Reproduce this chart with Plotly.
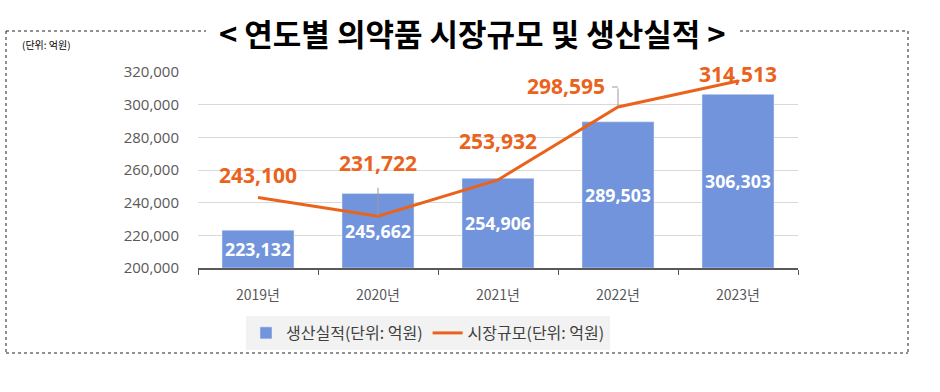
import plotly.graph_objects as go

years = ["2019년", "2020년", "2021년", "2022년", "2023년"]
production = [223132, 245662, 254906, 289503, 306303]
market = [243100, 231722, 253932, 298595, 314513]
y_ticks = [200000, 220000, 240000, 260000, 280000, 300000, 320000]
y_min, y_max = 200000, 320000
title_text = "< 연도별 의약품 시장규모 및 생산실적 >"
unit_text = "(단위: 억원)"
bar_name = "생산실적(단위: 억원)"
line_name = "시장규모(단위: 억원)"

BLUE = "#7194DC"
ORANGE = "#EA631C"
FONT = "Noto Sans CJK KR"

fig = go.Figure()
fig.add_trace(go.Bar(
    x=years, y=[v - y_min for v in production], base=y_min,
    name=bar_name, marker_color=BLUE, width=0.6,
    text=[f"<b>{v:,}</b>" for v in production], textposition="inside",
    insidetextanchor="middle", textangle=0,
    textfont=dict(color="white", size=18, family="Open Sans"),
))
fig.add_trace(go.Scatter(
    x=years, y=market, name=line_name, mode="lines",
    line=dict(color=ORANGE, width=3),
))

# line labels (pixel offsets)
offsets = [(0, -23, 0), (0, -53, 9), (0, -39, 0), (-52, -21, 0), (0, -7, 0)]
for xv, yv, (ax, ay, sso) in zip(years, market, offsets):
    fig.add_annotation(
        x=xv, y=yv, xref="x", yref="y", text=f"<b>{yv:,}</b>",
        showarrow=True, ax=ax, ay=ay, arrowhead=0, arrowwidth=1,
        arrowcolor="#9a9a9a" if sso else "rgba(0,0,0,0)",
        standoff=0, startstandoff=sso,
        font=dict(color=ORANGE, size=21, family="Open Sans"),
    )

# bracket-style leader for the 2022 label
fig.add_annotation(x=years[3], y=market[3], xref="x", yref="y", text="",
                   showarrow=True, ax=0, ay=-20, arrowhead=0, arrowwidth=1,
                   arrowcolor="#9a9a9a", standoff=1)

# dotted frame with gap for title
dash = dict(color="#222222", width=1, dash="dot")
def px_line(x0, y0, x1, y1):
    fig.add_shape(type="line", xref="paper", yref="paper",
                  x0=(x0 - 198) / 600, x1=(x1 - 198) / 600,
                  y0=(268 - y0) / 196, y1=(268 - y1) / 196, line=dash)
px_line(6, 31, 206, 31)
px_line(740, 31, 908, 31)
px_line(6, 31, 6, 353)
px_line(908, 31, 908, 353)
px_line(6, 353, 908, 353)
# small horizontal hook of the 2022 leader
fig.add_shape(type="line", xref="x", yref="paper",
              x0=3 - 0.05, x1=3, y0=(268 - 87) / 196, y1=(268 - 87) / 196,
              line=dict(color="#9a9a9a", width=1))

fig.add_annotation(text=f"<b>{title_text}</b>", xref="paper", yref="paper",
                   x=(472 - 198) / 600, y=(268 - 32) / 196, showarrow=False,
                   xanchor="center", yanchor="middle",
                   font=dict(size=31, color="black", family=FONT, weight=900))
fig.add_annotation(text=unit_text, xref="paper", yref="paper",
                   x=(20 - 198) / 600, y=(268 - 44) / 196, showarrow=False,
                   xanchor="left", yanchor="middle",
                   font=dict(size=10, color="black", family=FONT))

fig.update_layout(
    width=940, height=392,
    margin=dict(l=198, r=142, t=72, b=124),
    paper_bgcolor="white", plot_bgcolor="white",
    font=dict(family=FONT, color="#595959"),
    showlegend=True,
    legend=dict(orientation="h", x=(428 - 198) / 600, xanchor="center",
                y=-(333 - 268) / 196, yanchor="middle",
                bgcolor="#F2F2F2", font=dict(size=16, color="#404040", family=FONT),
                itemwidth=30, traceorder="normal"),
)
fig.update_xaxes(
    showline=True, linecolor="#595959", linewidth=1.5,
    ticks="outside", tickson="boundaries", ticklen=5, tickcolor="#595959",
    tickfont=dict(size=14, color="#595959", family=FONT),
    ticklabelstandoff=13, showgrid=False,
)
fig.update_yaxes(
    range=[y_min, y_max], tickvals=y_ticks, tickformat=",",
    showgrid=True, gridcolor="#D9D9D9", gridwidth=1, zeroline=False,
    tickfont=dict(size=15, color="#595959", family="Open Sans"),
    ticklabelstandoff=18,
)

fig.write_html("out.html", config={"displayModeBar": False},
               post_script="document.body.style.margin='0';")
